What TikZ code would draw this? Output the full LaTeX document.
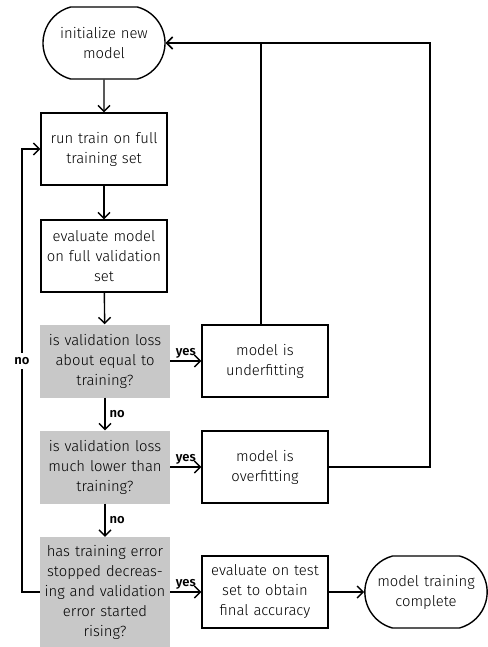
\documentclass[tikz,border=0pt]{standalone}
\usepackage{fontspec}
\setmainfont{Fira Sans}[UprightFont=* Light, BoldFont=* SemiBold]
\usetikzlibrary{arrows.meta,shapes.misc,calc}
\definecolor{decisiongray}{RGB}{200,200,200}
\begin{document}
\begin{tikzpicture}[x=1pt,y=1pt,
  every node/.style={font=\fontsize{14.8}{20}\selectfont, align=center, inner sep=2pt},
  boxnode/.style={draw, line width=1.4pt, minimum width=126pt, minimum height=72pt, text width=122pt},
  termnode/.style={draw, line width=1.4pt, rounded rectangle, rounded rectangle arc length=150, minimum width=126pt, minimum height=72pt, text width=110pt},
  decnode/.style={fill=decisiongray, minimum width=128pt, minimum height=73pt, text width=126pt},
  flow/.style={line width=1.4pt, -{Straight Barb[length=6pt,width=12pt]}},
  lbl/.style={font=\fontsize{13}{15}\selectfont\bfseries, inner sep=1pt}]
\useasboundingbox (0,0) rectangle (487,-647);

\node[termnode] (start) at (104,-43) {initialize new\\model};
\node[boxnode] (run) at (104,-149) {run train on full\\training set};
\node[boxnode] (evalm) at (104,-256) {evaluate model\\on full validation\\set};
\node[decnode] (d1) at (105,-361) {is validation loss\\about equal to\\training?};
\node[decnode] (d2) at (105,-467) {is validation loss\\much lower than\\training?};
\node[decnode, minimum height=110pt] (d3) at (105,-592) {has training error\\stopped decreas-\\ing and validation\\error started\\rising?};
\node[boxnode] (under) at (265,-361) {model is\\underfitting};
\node[boxnode] (over) at (265,-467) {model is\\overfitting};
\node[boxnode] (test) at (265,-592) {evaluate on test\\set to obtain\\final accuracy};
\node[termnode, minimum width=120pt] (done) at (426,-592) {model training\\complete};

\coordinate (rightrail) at (430,-43);
\coordinate (leftrail) at (22,-592);

\draw[flow] (start) -- (run);
\draw[flow] (run) -- (evalm);
\draw[flow] (evalm) -- (d1);
\draw[flow] (d1) -- node[lbl, right=3pt] {no} (d2);
\draw[flow] (d2) -- node[lbl, right=3pt] {no} (d3);
\draw[flow] (d1) -- node[lbl, above=1pt] {yes} (under);
\draw[flow] (d2) -- node[lbl, above=1pt] {yes} (over);
\draw[flow] (d3) -- node[lbl, above=1pt] {yes} (test);
\draw[flow] (test) -- (done);

\draw[flow] ($(under.north)+(-4,0)$) |- (start.east);
\draw[flow] (over.east) -| (rightrail) -- (start.east);
\draw[flow] (d3.west) -| (leftrail) |- (run.west);
\node[lbl, fill=white, inner sep=4pt] (nolbl) at (22,-361) {no};
\end{tikzpicture}
\end{document}
